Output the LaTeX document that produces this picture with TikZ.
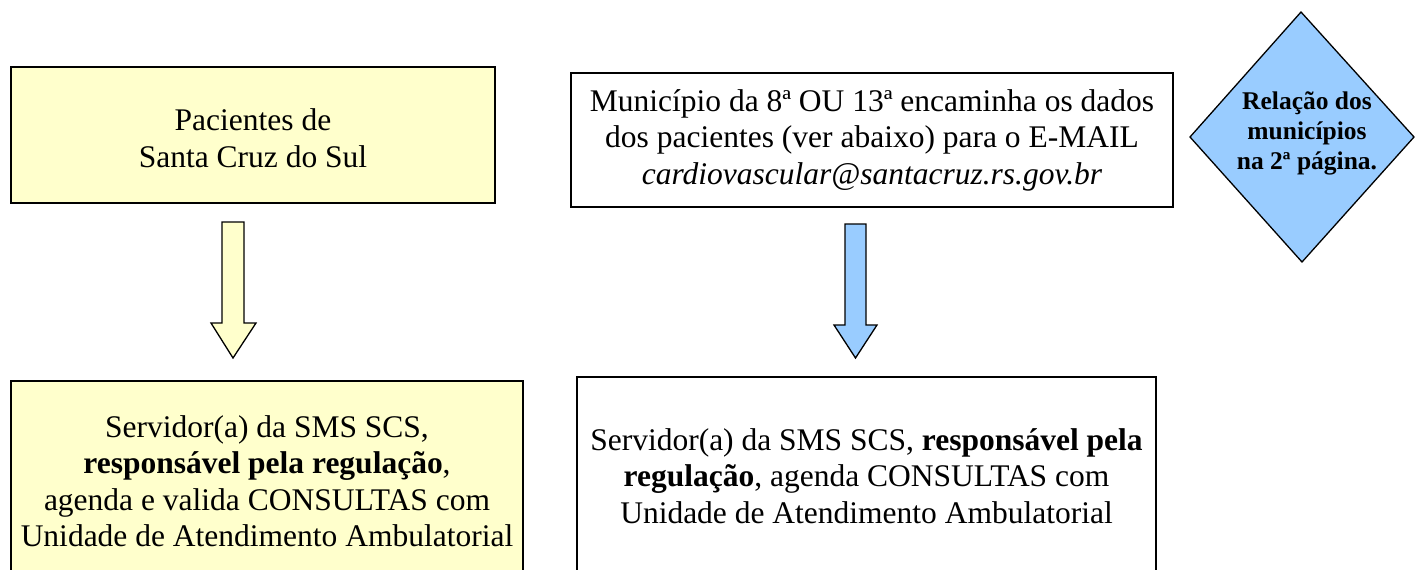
\documentclass[tikz,border=0pt]{standalone}
\usepackage{fontspec}
\setmainfont{Liberation Serif}
\usetikzlibrary{shapes.geometric,calc}
\definecolor{ylw}{RGB}{255,255,204}
\definecolor{blu}{RGB}{153,204,255}
\tikzset{
  x=1pt,y=-1pt,
  boxstyle/.style={draw=black,line width=1.3pt,align=center,inner sep=0pt,
    font=\fontsize{31.5}{36.5}\selectfont},
  blockarrow/.style={draw=black,line width=1.3pt,line join=miter},
}
\begin{document}
\begin{tikzpicture}
\useasboundingbox (0,0) rectangle (1416,570);
% top left box
\node[boxstyle,fill=ylw,minimum width=484pt,minimum height=136pt] (A) at (253,135) {};
\node[align=center,inner sep=0pt,font=\fontsize{31.5}{36.5}\selectfont] (At) at (253,138)
  {Pacientes de\\Santa Cruz do Sul};
% bottom left box
\node[boxstyle,fill=ylw,minimum width=512pt,minimum height=200pt] (C) at (267,481)
  {Servidor(a) da SMS SCS,\\\textbf{responsável pela regulação},\\agenda e valida CONSULTAS com\\Unidade de Atendimento Ambulatorial};
% top right box
\node[boxstyle,fill=white,minimum width=602pt,minimum height=134pt] (B) at (872,140)
  {Município da 8ª OU 13ª encaminha os dados\\dos pacientes (ver abaixo) para o E-MAIL\\\textit{cardiovascular@santacruz.rs.gov.br}};
% bottom right box
\node[boxstyle,fill=white,minimum width=579pt,minimum height=198pt] (D) at (866.5,476)
  {Servidor(a) da SMS SCS, \textbf{responsável pela}\\\textbf{regulação}, agenda CONSULTAS com\\Unidade de Atendimento Ambulatorial};
% diamond
\coordinate (DT) at (1301,12);
\coordinate (DR) at (1414,137);
\coordinate (DB) at (1302,262);
\coordinate (DL) at (1190,137);
\draw[fill=blu,line width=1.3pt] (DT) -- (DR) -- (DB) -- (DL) -- cycle;
\node[align=center,inner sep=0pt,font=\fontsize{25.5}{30}\selectfont\bfseries] (E) at (1307,133)
  {Relação dos\\municípios\\na 2ª página.};
% left block arrow
\draw[blockarrow,fill=ylw] (222,222) -- (244,222) -- (244,323) -- (256,323) -- (233,358)
  -- (211,323) -- (222,323) -- cycle;
% right block arrow
\draw[blockarrow,fill=blu] (845,224) -- (866,224) -- (866,325) -- (877,325) -- (855.5,358)
  -- (834,325) -- (845,325) -- cycle;
\end{tikzpicture}
\end{document}
